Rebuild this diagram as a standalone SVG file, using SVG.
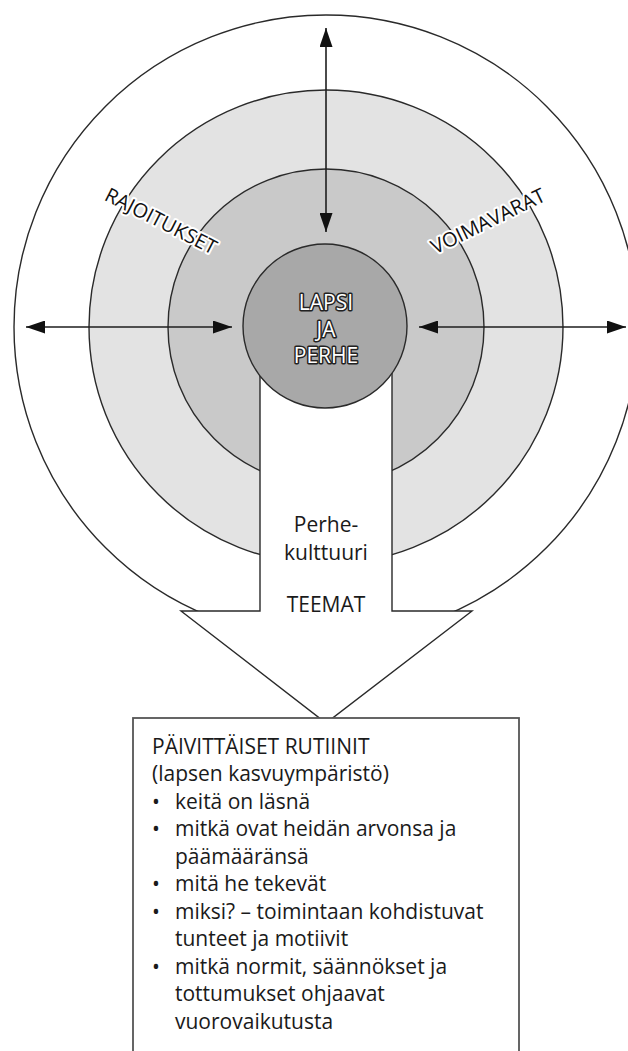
<svg xmlns="http://www.w3.org/2000/svg" width="628" height="1051" viewBox="0 0 628 1051">
<style>
.ring{stroke:#2a2a2a;stroke-width:1.4}
.conn{stroke:#1e1e1e;stroke-width:1.6;fill:none}
.lbl{font-family:"Open Sans","Noto Sans","Liberation Sans",sans-serif;font-size:20px;font-weight:500;fill:#111;stroke:#fff;stroke-width:4;paint-order:stroke;stroke-linejoin:round}
.ctr{font-family:"Open Sans","Noto Sans","Liberation Sans",sans-serif;font-size:21px;fill:#fff;stroke:#222;stroke-width:3;paint-order:stroke;stroke-linejoin:round;text-anchor:middle}
.txt{font-family:"Open Sans","Noto Sans","Liberation Sans",sans-serif;font-size:21px;font-weight:500;fill:#1a1a1a}
</style>
<defs>
<marker id="ah" viewBox="0 0 19 13" refX="19" refY="6.5" markerWidth="19" markerHeight="13" markerUnits="userSpaceOnUse" orient="auto-start-reverse">
<path d="M0,0 L19,6.5 L0,13 Z" fill="#111"/>
</marker>
</defs>
<rect width="628" height="1051" fill="#fff"/>
<g id="outer-ring"><circle cx="326" cy="327" r="312" fill="#fff" class="ring"/></g>
<g id="middle-ring"><circle cx="326" cy="327" r="237" fill="#e3e3e3" class="ring"/></g>
<g id="inner-ring"><circle cx="326" cy="327" r="158" fill="#c9c9c9" class="ring"/></g>
<g id="arrow-shape">
<polygon points="260,345 260,611 181,611 326,723 472,611 392,611 392,345" fill="#fff" stroke="#2a2a2a" stroke-width="1.4" stroke-linejoin="miter"/>
<text class="txt" x="326" y="532" text-anchor="middle">Perhe-</text>
<text class="txt" x="326" y="560" text-anchor="middle">kulttuuri</text>
<text class="txt" x="326" y="612" text-anchor="middle">TEEMAT</text>
</g>
<g id="center">
<circle cx="325" cy="326" r="82" fill="#a8a8a8" class="ring"/>
<text class="ctr" x="326" y="310">LAPSI</text>
<text class="ctr" x="326" y="337">JA</text>
<text class="ctr" x="326" y="363">PERHE</text>
</g>
<g id="connectors">
<line class="conn" x1="326" y1="28" x2="326" y2="232" marker-start="url(#ah)" marker-end="url(#ah)"/>
<line class="conn" x1="26" y1="327" x2="232" y2="327" marker-start="url(#ah)" marker-end="url(#ah)"/>
<line class="conn" x1="419" y1="327" x2="626" y2="327" marker-start="url(#ah)" marker-end="url(#ah)"/>
</g>
<g id="label-rajoitukset"><text class="lbl" transform="translate(161,221) rotate(27)" x="0" y="7" text-anchor="middle">RAJOITUKSET</text></g>
<g id="label-voimavarat"><text class="lbl" transform="translate(488,221) rotate(-26)" x="0" y="7" text-anchor="middle">VOIMAVARAT</text></g>
<g id="routines-box">
<rect x="133" y="718" width="386" height="400" fill="#fff" stroke="#555" stroke-width="1.8"/>
<text class="txt" x="152" y="754">PÄIVITTÄISET RUTIINIT</text>
<text class="txt" x="152" y="781">(lapsen kasvuympäristö)</text>
<text class="txt" x="152" y="809">•</text><text class="txt" x="175" y="809">keitä on läsnä</text>
<text class="txt" x="152" y="836">•</text><text class="txt" x="175" y="836">mitkä ovat heidän arvonsa ja</text>
<text class="txt" x="175" y="864">päämääränsä</text>
<text class="txt" x="152" y="891">•</text><text class="txt" x="175" y="891">mitä he tekevät</text>
<text class="txt" x="152" y="919">•</text><text class="txt" x="175" y="919">miksi? – toimintaan kohdistuvat</text>
<text class="txt" x="175" y="946">tunteet ja motiivit</text>
<text class="txt" x="152" y="974">•</text><text class="txt" x="175" y="974">mitkä normit, säännökset ja</text>
<text class="txt" x="175" y="1001">tottumukset ohjaavat</text>
<text class="txt" x="175" y="1029">vuorovaikutusta</text>
</g>
</svg>
